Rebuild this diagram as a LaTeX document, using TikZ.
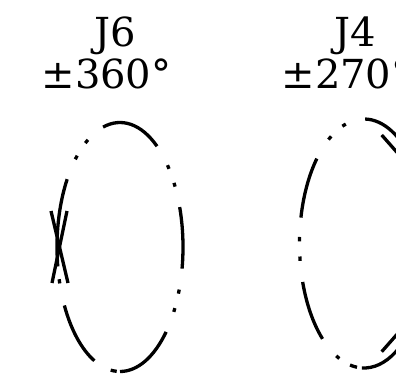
\documentclass[tikz,border=0pt]{standalone}
\usepackage{fontspec}
\setmainfont{DejaVu Serif}
\begin{document}
\begin{tikzpicture}[x=1pt,y=1pt,
  seg/.style={line width=3.3pt,line cap=butt},
  lbl/.style={inner sep=0pt,anchor=base,font=\fontsize{40}{42}\selectfont}]
\useasboundingbox (0,0) rectangle (396,-382);
% labels
\node[lbl] (t6) at (115,-46.5) {J6};
\node[lbl] (d6) at (106.5,-88.3) {±360°};
\node[lbl] (t4) at (355,-46.5) {J4};
\node[lbl] (d4) at (346.5,-88.3) {±270°};
% J6 ellipse
\begin{scope}[shift={(120,-247)}]
\foreach \s/\e in {54/105.6, 38.9/41.1, 29/31, -10/18.7, -22/-20, -31.4/-29.4,
  -90/-43, -98.5/-93, 208/246, 195/197, 147/189, 132.8/135.2, 120.6/123.4}
  \draw[seg] (\s:63 and 124.5) arc[start angle=\s,end angle=\e,x radius=63,y radius=124.5];
\end{scope}
\coordinate (a1) at (51,-211);
\coordinate (a2) at (68,-283);
\coordinate (a3) at (67,-211);
\coordinate (a4) at (52,-283);
\draw[seg] (a1) -- (a2);
\draw[seg] (a3) -- (a4);
% J4 ellipse
\begin{scope}[shift={(364,-243.5)}]
\foreach \s/\e in {40/89, 106.4/109.6, 120.6/123.4, 137/168, 177/179, 186/188,
  198/230, 244.5/247.5, 257.5/263.8, 268/330}
  \draw[seg] (\s:64.5 and 124.5) arc[start angle=\s,end angle=\e,x radius=64.5,y radius=124.5];
\end{scope}
\coordinate (b1) at (381.7,-135);
\coordinate (b2) at (409,-166);
\coordinate (b3) at (381.7,-351.7);
\coordinate (b4) at (409,-320.7);
\draw[seg] (b1) -- (b2);
\draw[seg] (b3) -- (b4);
\end{tikzpicture}
\end{document}
